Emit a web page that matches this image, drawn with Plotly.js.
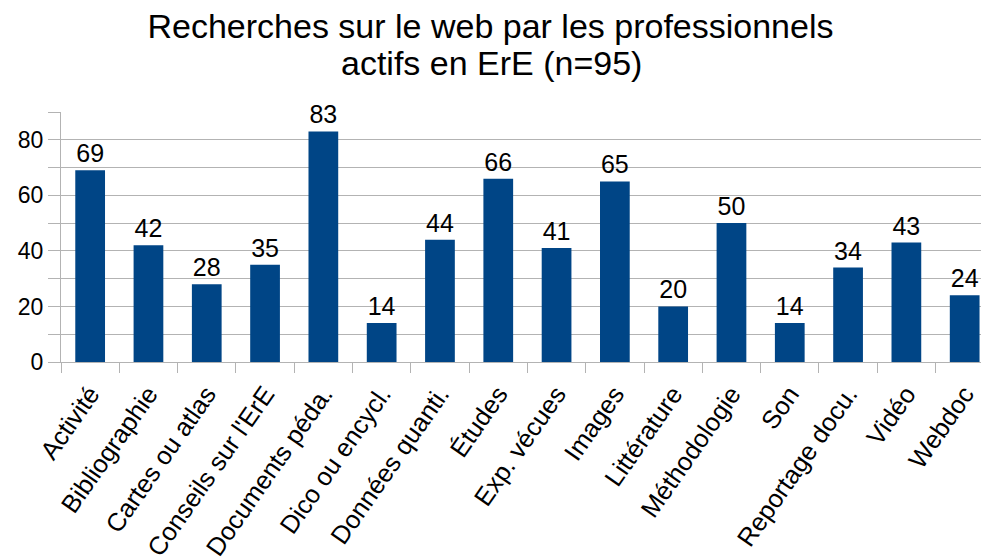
<!DOCTYPE html>
<html>
<head>
<meta charset="utf-8">
<script src="https://cdn.plot.ly/plotly-3.0.1.min.js"></script>
<style>html,body{margin:0;padding:0;background:#fff;}#chart{width:981px;height:557px;}</style>
</head>
<body>
<div id="chart"></div>
<script>
const categories = ["Activité","Bibliographie","Cartes ou atlas","Conseils sur l'ErE","Documents péda.","Dico ou encycl.","Données quanti.","Études","Exp. vécues","Images","Littérature","Méthodologie","Son","Reportage docu.","Vidéo","Webdoc"];
const values = [69,42,28,35,83,14,44,66,41,65,20,50,14,34,43,24];
const yTickVals = [0,20,40,60,80];
const yTickText = ["0","20","40","60","80"];
const titleLine1 = "Recherches sur le web par les professionnels";
const titleLine2 = "actifs en ErE (n=95)";

const font = "Liberation Sans, Arial, sans-serif";
const grid = "#b3b3b3";

const trace = {
  type: "bar",
  x: categories,
  y: values,
  width: 0.51,
  marker: {color: "#004586"},
  text: values.map(String),
  textposition: "outside",
  textfont: {family: font, size: 25, color: "#000"},
  constraintext: "none",
  cliponaxis: false,
  hoverinfo: "none"
};

const layout = {
  width: 981, height: 557,
  margin: {l: 61, r: 0, t: 112, b: 195},
  paper_bgcolor: "#fff", plot_bgcolor: "#fff",
  showlegend: false,
  title: {text: titleLine1, x: 0.5, xanchor: "center", xref: "container",
          yref: "container", y: 1 - 26/557, yanchor: "middle",
          font: {family: font, size: 34, color: "#000"}},
  annotations: [{
    text: titleLine2, showarrow: false,
    xref: "paper", yref: "paper",
    x: (491 - 61) / 920, xanchor: "center",
    y: (362 - 63) / 250, yanchor: "middle",
    font: {family: font, size: 34, color: "#000"}
  }],
  xaxis: {
    type: "category",
    range: [-0.5, 15.28],
    tickson: "boundaries",
    ticks: "outside", ticklen: 10, tickcolor: grid, tickwidth: 1,
    showgrid: false,
    showline: true, linecolor: grid, linewidth: 1,
    tickangle: -55,
    ticklabelstandoff: 6,
    tickfont: {family: font, size: 25.5, color: "#000"},
    fixedrange: true
  },
  yaxis: {
    range: [0, 90],
    tickvals: yTickVals, ticktext: yTickText,
    ticks: "outside", ticklen: 12, tickcolor: grid,
    showgrid: true, gridcolor: grid, gridwidth: 1,
    showline: true, linecolor: grid, linewidth: 1,
    zeroline: false,
    minor: {dtick: 10, tick0: 0, showgrid: true, gridcolor: grid, gridwidth: 1, ticks: "outside", ticklen: 12, tickcolor: grid},
    tickfont: {family: font, size: 23, color: "#000"},
    fixedrange: true
  }
};

Plotly.newPlot("chart", [trace], layout, {displayModeBar: false, staticPlot: true});
</script>
</body>
</html>
